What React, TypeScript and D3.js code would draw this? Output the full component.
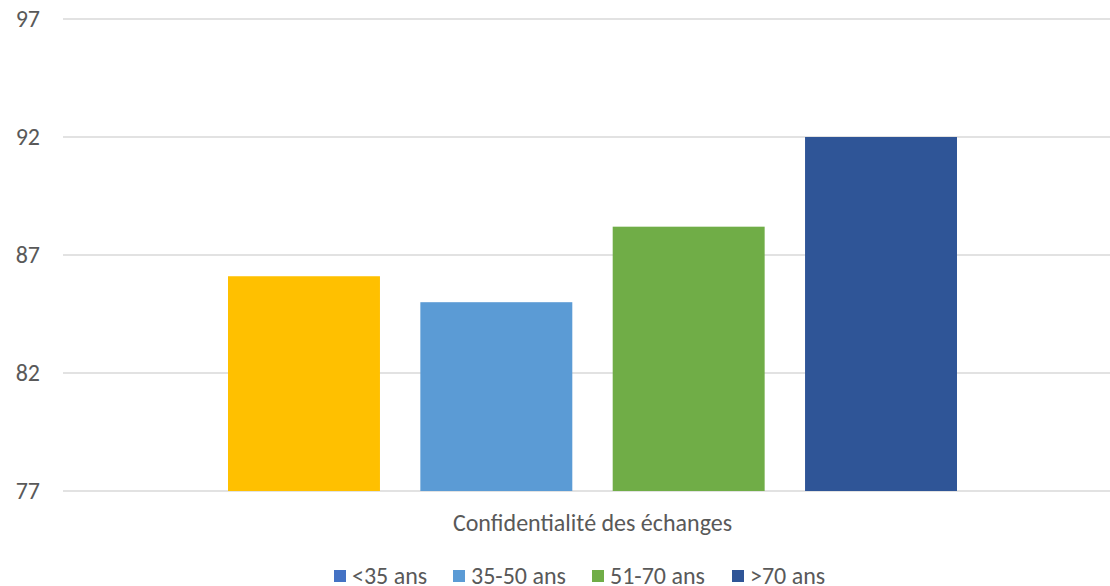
import React from "react";
import * as d3 from "d3";

const category = "Confidentialité des échanges";
const series = ["<35 ans", "35-50 ans", "51-70 ans", ">70 ans"];
const values = [86.1, 85.0, 88.2, 92.0];
const barColors = ["#FFC000", "#5B9BD5", "#70AD47", "#2F5597"];
const legendColors = ["#4472C4", "#5B9BD5", "#70AD47", "#2F5597"];
const yTicks = [77, 82, 87, 92, 97];

const W = 1110;
const H = 586;
const FONT = "Carlito, Calibri, 'Open Sans', sans-serif";

export default function App() {
  const plotLeft = 63;
  const plotRight = 1122;
  const y = d3.scaleLinear().domain([77, 97]).range([491, 19]);
  const center = (plotLeft + plotRight) / 2;
  const groupW = 729;
  const x = d3
    .scaleBand<string>()
    .domain(series)
    .range([center - groupW / 2, center + groupW / 2])
    .paddingInner(0.21)
    .paddingOuter(0);

  const legendX = [334, 453, 592, 732];

  return (
    <svg width={W} height={H} style={{ position: "absolute", left: 0, top: 0, background: "#fff" }}>
      <rect x={0} y={0} width={W} height={H} fill="#fff" />
      {yTicks.map((t) => (
        <g key={t}>
          <line x1={plotLeft} x2={W} y1={y(t)} y2={y(t)} stroke="#D9D9D9" strokeWidth={1.3} />
          <text x={40} y={y(t)} dy="0.35em" textAnchor="end" fontFamily={FONT} fontSize={24} fill="#595959">
            {t}
          </text>
        </g>
      ))}
      {series.map((s, i) => (
        <rect
          key={s}
          x={x(s)}
          y={y(values[i])}
          width={x.bandwidth()}
          height={y(77) - y(values[i])}
          fill={barColors[i]}
        />
      ))}
      <text x={center} y={523} dy="0.35em" textAnchor="middle" fontFamily={FONT} fontSize={24} fill="#595959">
        {category}
      </text>
      {series.map((s, i) => (
        <g key={s}>
          <rect x={legendX[i]} y={570} width={12} height={12} fill={legendColors[i]} />
          <text x={legendX[i] + 18} y={576} dy="0.35em" fontFamily={FONT} fontSize={24} fill="#595959">
            {s}
          </text>
        </g>
      ))}
    </svg>
  );
}
